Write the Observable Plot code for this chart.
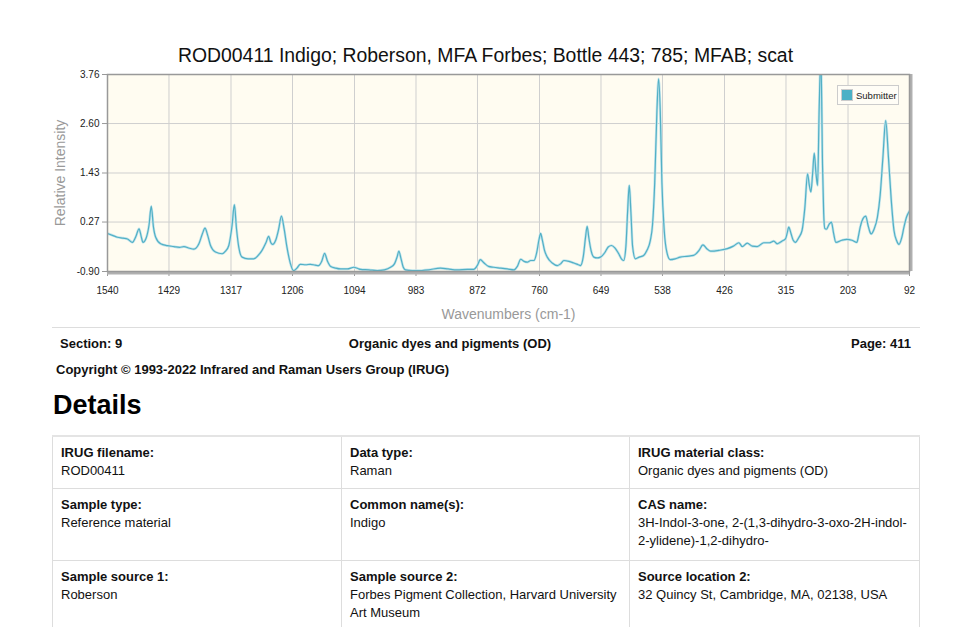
<!DOCTYPE html>
<html>
<head>
<meta charset="utf-8">
<script src="https://cdn.jsdelivr.net/npm/d3@7"></script>
<script src="https://cdn.jsdelivr.net/npm/@observablehq/plot@0.6"></script>
<style>
  html, body { margin: 0; padding: 0; background: #fff; }
  body { width: 977px; height: 627px; position: relative; overflow: hidden; font-family: "Liberation Sans", Arial, sans-serif; color: #111; }
  .abs { position: absolute; white-space: nowrap; }
  #title { top: 44px; left: 0; width: 971px; text-align: center; font-size: 19.4px; color: #111; }
  #chart { position: absolute; top: 0; left: 0; }
  #legend { position: absolute; left: 837px; top: 85px; width: 62px; height: 20px; border: 1px solid #ccc; background: #fffdf6; box-sizing: border-box; font-size: 9.5px; color: #222; }
  #legend .sw { position: absolute; left: 3px; top: 3px; width: 12px; height: 12px; background: #4bb1c6; border: 1px solid #ccc; box-sizing: border-box; }
  #legend .tx { position: absolute; left: 18px; top: 4px; }
  .bold12 { font-weight: bold; font-size: 13px; }
  #hr { position: absolute; left: 52px; top: 327px; width: 868px; height: 1px; background: #ddd; }
  #details { position: absolute; left: 53px; top: 390px; font-size: 27px; font-weight: bold; color: #000; }
  table { position: absolute; left: 52px; top: 435px; border-collapse: collapse; table-layout: fixed; width: 867px; font-size: 13px; border-top: 2px solid #e4e4e4; }
  td { border: 1px solid #ddd; vertical-align: top; padding: 7px 8px 8px 8px; line-height: 18px; white-space: normal; color: #111; }
  td b { display: block; }
</style>
</head>
<body>
<div id="title" class="abs">ROD00411 Indigo; Roberson, MFA Forbes; Bottle 443; 785; MFAB; scat</div>
<div id="chart"></div>
<div id="legend"><div class="sw"></div><div class="tx">Submitter</div></div>
<div id="hr"></div>
<div class="abs bold12" style="left:60px; top:336px;">Section: 9</div>
<div class="abs bold12" style="left:0; width:900px; text-align:center; top:336px;">Organic dyes and pigments (OD)</div>
<div class="abs bold12" style="right:66px; top:336px;">Page: 411</div>
<div class="abs bold12" style="left:56px; top:362px;">Copyright © 1993-2022 Infrared and Raman Users Group (IRUG)</div>
<div id="details">Details</div>
<table>
  <colgroup><col style="width:289px"><col style="width:288px"><col style="width:290px"></colgroup>
  <tr>
    <td><b>IRUG filename:</b>ROD00411</td>
    <td><b>Data type:</b>Raman</td>
    <td><b>IRUG material class:</b>Organic dyes and pigments (OD)</td>
  </tr>
  <tr>
    <td style="padding-bottom:10px"><b>Sample type:</b>Reference material</td>
    <td style="padding-bottom:10px"><b>Common name(s):</b>Indigo</td>
    <td style="padding-bottom:10px"><b>CAS name:</b>3H-Indol-3-one, 2-(1,3-dihydro-3-oxo-2H-indol-2-ylidene)-1,2-dihydro-</td>
  </tr>
  <tr>
    <td><b>Sample source 1:</b>Roberson</td>
    <td><b>Sample source 2:</b>Forbes Pigment Collection, Harvard University Art Museum</td>
    <td><b>Source location 2:</b>32 Quincy St, Cambridge, MA, 02138, USA</td>
  </tr>
</table>
<script>
const wavenumbers = [1540,1530,1522,1512,1504,1495,1489,1483,1479,1476,1470,1465,1461,1457,1453,1444,1432,1420,1410,1402,1392,1384,1375,1369,1364,1359,1354,1345,1333,1327,1321,1315,1311,1307,1303,1297,1286,1276,1268,1261,1254,1249,1245,1242,1236,1231,1226,1221,1216,1210,1204,1198,1192,1182,1174,1165,1159,1153,1148,1143,1137,1128,1119,1107,1095,1088,1083,1068,1053,1040,1029,1022,1017,1014,1010,1006,1002,990,981,960,939,925,909,890,879,872,867,860,852,843,830,818,806,800,794,788,782,776,770,765,761,758,755,751,746,737,728,722,716,707,698,690,686,681,677,674,671,667,662,656,650,642,636,630,624,617,611,608,604,601,598,595,592,587,580,572,566,560,556,552,548,545,542,539,535,530,524,515,506,494,482,472,465,458,451,436,421,410,400,394,385,376,367,355,345,337,331,322,316,313,310,306,302,298,292,286,281,276,273,270,267,264,261,258,255,252,249,247,245,242,237,233,229,225,214,205,196,187,184,181,176,171,167,163,161,156,150,145,140,135,130,125,120,115,111,106,102,97,92];
const intensities = [0.00,-0.05,-0.09,-0.11,-0.13,-0.21,-0.08,0.11,-0.08,-0.21,-0.10,0.20,0.645,0.15,-0.09,-0.245,-0.29,-0.31,-0.33,-0.31,-0.35,-0.37,-0.245,-0.02,0.125,-0.05,-0.285,-0.44,-0.48,-0.42,-0.285,0.20,0.68,0.10,-0.325,-0.56,-0.60,-0.60,-0.52,-0.40,-0.22,-0.07,-0.22,-0.26,-0.15,0.10,0.41,0.10,-0.325,-0.70,-0.88,-0.82,-0.73,-0.74,-0.73,-0.75,-0.76,-0.65,-0.47,-0.65,-0.78,-0.82,-0.84,-0.84,-0.80,-0.83,-0.85,-0.86,-0.88,-0.86,-0.80,-0.72,-0.55,-0.42,-0.60,-0.80,-0.86,-0.88,-0.88,-0.86,-0.82,-0.84,-0.86,-0.85,-0.85,-0.75,-0.62,-0.70,-0.78,-0.80,-0.82,-0.84,-0.86,-0.78,-0.61,-0.66,-0.68,-0.64,-0.64,-0.45,-0.15,0.00,-0.15,-0.40,-0.56,-0.70,-0.76,-0.72,-0.64,-0.66,-0.70,-0.74,-0.76,-0.55,-0.10,0.17,-0.10,-0.40,-0.56,-0.58,-0.56,-0.45,-0.32,-0.285,-0.34,-0.48,-0.62,-0.64,-0.30,0.50,1.135,0.50,-0.30,-0.60,-0.56,-0.52,-0.40,-0.17,0.20,1.20,2.90,3.66,2.90,1.20,0.10,-0.45,-0.62,-0.60,-0.56,-0.54,-0.52,-0.40,-0.27,-0.36,-0.42,-0.40,-0.36,-0.30,-0.22,-0.31,-0.23,-0.30,-0.31,-0.22,-0.22,-0.18,-0.245,-0.18,-0.13,0.00,0.15,0.00,-0.16,-0.21,-0.10,0.07,0.60,1.41,1.15,0.98,1.40,1.90,1.45,1.135,3.00,4.20,1.60,0.50,0.12,0.10,0.22,0.27,0.00,-0.21,-0.16,-0.14,-0.16,-0.21,-0.05,0.15,0.35,0.41,0.20,0.02,-0.01,0.10,0.38,0.90,1.80,2.67,1.80,0.80,0.07,-0.18,-0.26,-0.10,0.15,0.40,0.53];
const xTicks = [1540,1429,1317,1206,1094,983,872,760,649,538,426,315,203,92];
const yTicks = [-0.90,0.27,1.43,2.60,3.76];

const data = wavenumbers.map((w, i) => ({w, v: intensities[i]}));

const chart = Plot.plot({
  width: 977,
  height: 330,
  marginTop: 74,
  marginBottom: 59,
  marginLeft: 107,
  marginRight: 68,
  x: {domain: [1540, 92]},
  y: {domain: [-0.90, 3.76]},
  style: {fontFamily: "Liberation Sans, Arial, sans-serif", fontSize: "10px", color: "#222", background: "transparent", overflow: "visible"},
  marks: [
    Plot.frame({fill: "#fffcf1"}),
    Plot.gridX(xTicks, {stroke: "#cfcfcf", strokeOpacity: 1}),
    Plot.gridY(yTicks, {stroke: "#cfcfcf", strokeOpacity: 1}),
    Plot.axisX(xTicks, {tickSize: 5, tickPadding: 10, stroke: "#999", fill: "#222", label: null, tickFormat: d => String(d)}),
    Plot.axisY(yTicks, {tickSize: 5, tickPadding: 3, stroke: "#999", fill: "#222", label: null, tickFormat: d => d.toFixed(2)}),
    Plot.line(data, {x: "w", y: "v", stroke: "#c4e5ec", strokeWidth: 2.6, curve: "monotone-x", clip: true}),
    Plot.line(data, {x: "w", y: "v", stroke: "#52b0c5", strokeWidth: 1.2, curve: "monotone-x", clip: true}),
    Plot.ruleX([92], {stroke: "#b0b0b0", strokeWidth: 3, dx: 1.5, y1: -0.90, y2: 3.76}),
    Plot.ruleY([-0.90], {stroke: "#b0b0b0", strokeWidth: 3, dy: 1.5}),
    Plot.frame({stroke: "#999", strokeWidth: 1.5}),
    Plot.text(["Wavenumbers (cm-1)"], {text: d => d, frameAnchor: "bottom", dy: 47, fill: "#999", fontSize: 14}),
    Plot.text(["Relative Intensity"], {text: d => d, frameAnchor: "left", textAnchor: "middle", dx: -47, rotate: -90, fill: "#999", fontSize: 14})
  ]
});
document.getElementById("chart").appendChild(chart);
</script>
</body>
</html>
